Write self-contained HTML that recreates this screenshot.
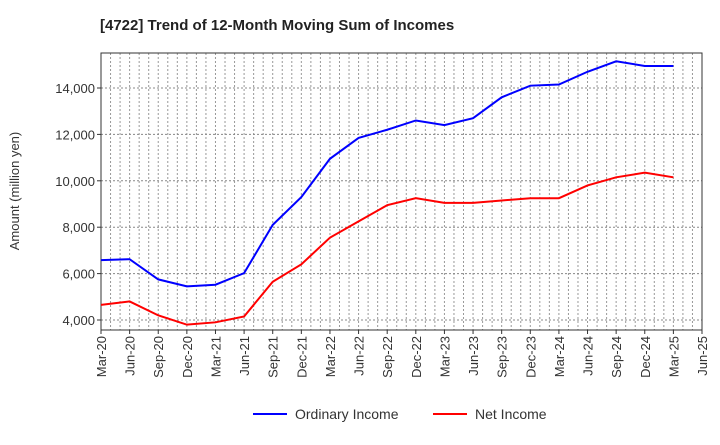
<!DOCTYPE html>
<html><head><meta charset="utf-8"><style>
body{margin:0;background:#fff;font-family:"Liberation Sans",sans-serif}
</style></head><body>
<svg id="c" width="720" height="440" xmlns="http://www.w3.org/2000/svg">
<text x="100" y="30" font-size="15" font-weight="bold" fill="#222">[4722]  Trend of 12-Month Moving Sum of Incomes</text>
<g id="grid"></g><g id="axes"></g><g id="series"></g>
<text transform="translate(19,191) rotate(-90)" text-anchor="middle" font-size="13" fill="#333">Amount (million yen)</text>
<g>
<line x1="253" y1="414" x2="287" y2="414" stroke="#0000ff" stroke-width="2"/>
<text x="295" y="419" font-size="14" fill="#333">Ordinary Income</text>
<line x1="433" y1="414" x2="467" y2="414" stroke="#ff0000" stroke-width="2"/>
<text x="475" y="419" font-size="14" fill="#333">Net Income</text>
</g>
</svg>
<script>
const categories=["Mar-20","Jun-20","Sep-20","Dec-20","Mar-21","Jun-21","Sep-21","Dec-21","Mar-22","Jun-22","Sep-22","Dec-22","Mar-23","Jun-23","Sep-23","Dec-23","Mar-24","Jun-24","Sep-24","Dec-24","Mar-25","Jun-25"];
const ordinaryIncome=[6580,6620,5750,5450,5520,6020,8100,9300,10950,11850,12200,12600,12400,12700,13600,14100,14150,14700,15150,14950,14950];
const netIncome=[4650,4800,4200,3800,3900,4150,5650,6400,7550,8250,8950,9250,9050,9050,9150,9250,9250,9800,10150,10350,10150];
const yTicks=[4000,6000,8000,10000,12000,14000];
const L=101,R=702,T=53,B=330;
const xs=i=>L+(R-L)*i/21;
const ys=v=>320-(v-4000)*0.0232;
const NS="http://www.w3.org/2000/svg";
function mk(t,a,p){const e=document.createElementNS(NS,t);for(const k in a)e.setAttribute(k,a[k]);p.appendChild(e);return e;}
const g=document.getElementById('grid'),ax=document.getElementById('axes'),s=document.getElementById('series');
for(let m=1;m<63;m++){const x=L+(R-L)*m/63;
const e=mk('line',{x1:x,x2:x,y1:T,y2:B,stroke:'#999','stroke-dasharray':'2,2','stroke-width':1},g);

}
yTicks.forEach(v=>{const y=ys(v);
const e=mk('line',{x1:L,x2:R,y1:y,y2:y,stroke:'#888','stroke-dasharray':'2,2','stroke-width':1},g);


const t=mk('text',{x:L-6,y:y+5,'text-anchor':'end','font-size':13,fill:'#333'},ax);t.textContent=v.toLocaleString('en-US');


mk('line',{x1:L-4,x2:L,y1:y,y2:y,stroke:'#333'},ax);});
const fr=mk('rect',{x:L,y:T,width:R-L,height:B-T,fill:'none',stroke:'#333','stroke-width':1},ax);


categories.forEach((c,i)=>{const x=xs(i);
mk('line',{x1:x,x2:x,y1:B,y2:B+4,stroke:'#333'},ax);
const t=mk('text',{transform:`translate(${x+5},${B+6}) rotate(-90)`,'text-anchor':'end','font-size':13,fill:'#333'},ax);t.textContent=c;

});
function line(d,col,name){const p=mk('polyline',{points:d.map((v,i)=>xs(i)+','+ys(v)).join(' '),fill:'none',stroke:col,'stroke-width':2},s);

}
line(ordinaryIncome,'#0000ff','ordinary-income-line');
line(netIncome,'#ff0000','net-income-line');
</script>
</body></html>
